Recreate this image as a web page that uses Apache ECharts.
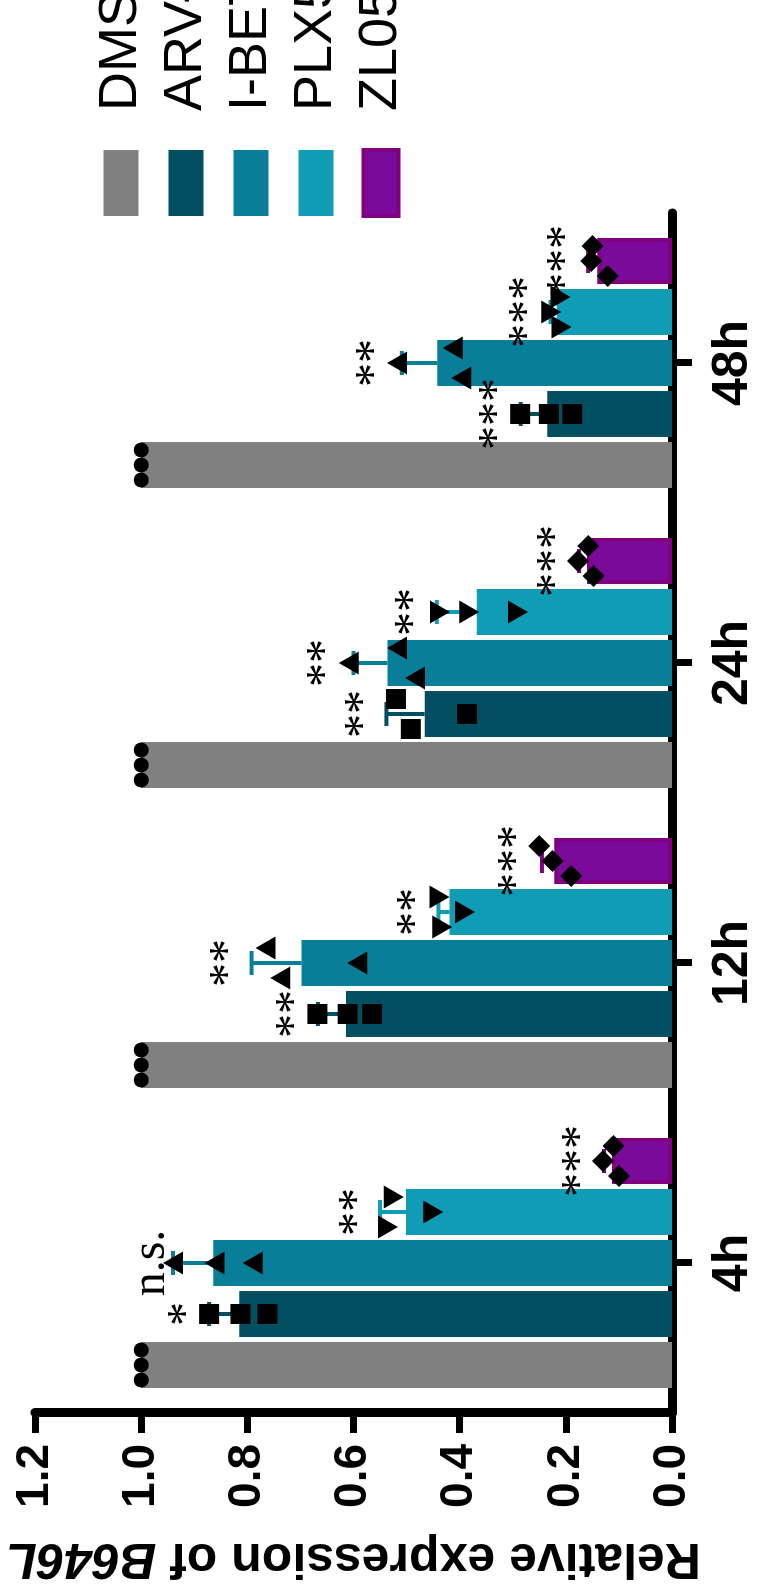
<!DOCTYPE html>
<html>
<head>
<meta charset="utf-8">
<script src="https://cdn.jsdelivr.net/npm/echarts@6/dist/echarts.min.js"></script>
<style>
    html, body { margin: 0; padding: 0; width: 761px; height: 1591px; overflow: hidden; background: #fff; }
    /* the figure is a normal column chart turned a quarter turn counter-clockwise */
    #chart { position: absolute; left: 0; top: 0; width: 1591px; height: 761px;
             transform-origin: 0 0; transform: translate(0, 1591px) rotate(-90deg); }
</style>
</head>
<body>
<div id="chart"></div>
<script>
const categories = ['4h', '12h', '24h', '48h'];
const treatments = ['DMSO', 'ARV-771', 'I-BET151', 'PLX51107', 'ZL0590'];

// bar heights (mean)
const dmsoMean = [1.0, 1.0, 1.0, 1.0];
const arvMean = [0.815, 0.614, 0.466, 0.235];
const ibetMean = [0.864, 0.698, 0.536, 0.442];
const plxMean = [0.501, 0.419, 0.368, 0.217];
const zlMean = [0.113, 0.222, 0.160, 0.141];

// error bar (SD, drawn upward only)
const dmsoSd = [0, 0, 0, 0];
const arvSd = [0.057, 0.053, 0.072, 0.050];
const ibetSd = [0.076, 0.094, 0.064, 0.067];
const plxSd = [0.049, 0.021, 0.075, 0.012];
const zlSd = [0.015, 0.023, 0.015, 0.017];

// individual replicates
const dmsoPts = [[1, 1, 1], [1, 1, 1], [1, 1, 1], [1, 1, 1]];
const arvPts = [[0.872, 0.813, 0.762], [0.668, 0.611, 0.565], [0.52, 0.492, 0.386], [0.286, 0.232, 0.188]];
const ibetPts = [[0.94, 0.862, 0.79], [0.766, 0.738, 0.593], [0.609, 0.518, 0.484], [0.518, 0.413, 0.397]];
const plxPts = [[0.524, 0.535, 0.45], [0.438, 0.433, 0.39], [0.437, 0.382, 0.29], [0.21, 0.2275, 0.208]];
const zlPts = [[0.11, 0.13, 0.10], [0.25, 0.225, 0.19], [0.158, 0.177, 0.148], [0.15, 0.152, 0.121]];

// significance vs DMSO
const dmsoSig = ['', '', '', ''];
const arvSig = ['*', '**', '**', '***'];
const ibetSig = ['n.s.', '**', '**', '**'];
const plxSig = ['**', '**', '**', '***'];
const zlSig = ['***', '***', '***', '***'];

const yTicks = [0, 0.2, 0.4, 0.6, 0.8, 1.0, 1.2];

// ---- style ----
const colors = ['#808080', '#034f62', '#087e98', '#119cb5', '#7a0a9a'];
const markers = [
    { symbol: 'circle', size: 15, rotate: 0 },
    { symbol: 'rect', size: 20, rotate: 0 },
    { symbol: 'triangle', size: [23, 20], rotate: 0 },
    { symbol: 'triangle', size: [23, 20], rotate: 180 },
    { symbol: 'diamond', size: [22, 22], rotate: 0 }
];
const grid = { left: 170, right: 213, top: 35, bottom: 89 };
const barWidth = 46, barGapPx = 5;
const pitch = barWidth + barGapPx;
const pxPerUnit = (761 - grid.top - grid.bottom) / 1.2;
const jitter = 15;
const sansFont = '"Liberation Sans", Arial, sans-serif';
const serifFont = '"Liberation Serif", "Times New Roman", serif';

const means = [dmsoMean, arvMean, ibetMean, plxMean, zlMean];
const sds = [dmsoSd, arvSd, ibetSd, plxSd, zlSd];
const pts = [dmsoPts, arvPts, ibetPts, plxPts, zlPts];
const sigs = [dmsoSig, arvSig, ibetSig, plxSig, zlSig];

// spread replicates sideways only when their markers would overlap
function swarmOffsets(vals) {
    const n = vals.length, comp = vals.map((_, k) => k);
    const find = k => comp[k] === k ? k : (comp[k] = find(comp[k]));
    for (let a = 0; a < n; a++)
        for (let b = a + 1; b < n; b++)
            if (Math.abs(vals[a] - vals[b]) * pxPerUnit < 20) comp[find(a)] = find(b);
    const groups = {};
    vals.forEach((_, k) => { const r = find(k); (groups[r] = groups[r] || []).push(k); });
    const out = new Array(n).fill(0);
    Object.values(groups).forEach(g => {
        const pattern = g.length === 2 ? [1, -1] : g.length === 3 ? [1, 0, -1] : [0];
        g.forEach((k, idx) => { out[k] = (pattern[idx] || 0) * jitter; });
    });
    return out;
}

const series = [];
treatments.forEach((name, j) => {
    const shift = (j - 2) * pitch;
    const color = colors[j];

    series.push({
        name: name,
        type: 'bar',
        data: means[j],
        barWidth: barWidth,
        barGap: (barGapPx / barWidth * 100) + '%',
        itemStyle: j === 4
            ? { color: color, borderColor: '#800080', borderWidth: 4 }
            : { color: color },
        z: 2
    });

    series.push({
        type: 'custom',
        z: 3,
        silent: true,
        encode: { x: 0, y: [1, 2] },
        data: categories.map((c, i) => [i, means[j][i], means[j][i] + sds[j][i]]).filter(d => d[2] > d[1]),
        renderItem: function (params, api) {
            const base = api.coord([api.value(0), api.value(1)]);
            const end = api.coord([api.value(0), api.value(2)]);
            const x = base[0] + shift;
            const st = { stroke: j === 4 ? '#800080' : color, lineWidth: 4 };
            return {
                type: 'group',
                children: [
                    { type: 'line', shape: { x1: x, y1: base[1], x2: x, y2: end[1] }, style: st },
                    { type: 'line', shape: { x1: x - 12, y1: end[1], x2: x + 12, y2: end[1] }, style: st }
                ]
            };
        }
    });

    const scatterData = [];
    pts[j].forEach((vals, i) => {
        const offs = swarmOffsets(vals);
        vals.forEach((v, k) => {
            scatterData.push({ value: [i, v], symbolOffset: [shift + offs[k], 0] });
        });
    });
    series.push({
        type: 'scatter',
        z: 4,
        silent: true,
        symbol: markers[j].symbol,
        symbolSize: markers[j].size,
        symbolRotate: markers[j].rotate,
        itemStyle: { color: '#000', opacity: 1 },
        data: scatterData
    });

    series.push({
        type: 'custom',
        z: 5,
        silent: true,
        encode: { x: 0, y: 1 },
        data: categories.map((c, i) => [i, Math.max(means[j][i] + sds[j][i], ...pts[j][i])]),
        renderItem: function (params, api) {
            const text = sigs[j][params.dataIndex];
            if (!text) return null;
            const p = api.coord([api.value(0), api.value(1)]);
            return {
                type: 'text',
                x: p[0] + shift,
                y: p[1] - 22,
                style: {
                    text: text,
                    fill: '#000',
                    font: '48px ' + serifFont,
                    align: 'center',
                    verticalAlign: 'middle',
                    textAlign: 'center',
                    textVerticalAlign: 'middle'
                }
            };
        }
    });
});

const option = {
    animation: false,
    backgroundColor: '#fff',
    grid: grid,
    legend: {
        data: treatments.map((name, j) => j === 4
            ? { name: name, itemStyle: { color: colors[j], borderColor: '#800080', borderWidth: 4 } }
            : { name: name, itemStyle: { color: colors[j], borderWidth: 0 } }),
        orient: 'vertical',
        left: 1373,
        top: 94,
        padding: 0,
        icon: 'rect',
        itemWidth: 66,
        itemHeight: 35,
        itemGap: 11,
        selectedMode: false,
        textStyle: {
            color: '#000',
            fontFamily: sansFont,
            fontSize: 54,
            padding: [0, 0, 0, 34]
        }
    },
    xAxis: {
        type: 'category',
        data: categories,
        axisLine: { show: true, lineStyle: { color: '#000', width: 9 } },
        axisTick: { show: true, alignWithLabel: true, length: 20, lineStyle: { color: '#000', width: 7 } },
        axisLabel: { color: '#000', fontFamily: sansFont, fontWeight: 'bold', fontSize: 50, margin: 36 },
        splitLine: { show: false }
    },
    yAxis: {
        type: 'value',
        min: yTicks[0],
        max: yTicks[yTicks.length - 1],
        interval: 0.2,
        name: 'Relative expression of {it|B646L}',
        nameLocation: 'middle',
        nameGap: 120,
        nameTextStyle: {
            color: '#000', fontFamily: sansFont, fontWeight: 'bold', fontSize: 50,
            rich: { it: { fontFamily: sansFont, fontWeight: 'bold', fontStyle: 'italic', fontSize: 50, color: '#000' } }
        },
        axisLine: { show: true, lineStyle: { color: '#000', width: 9 } },
        axisTick: { show: true, length: 20, lineStyle: { color: '#000', width: 7 } },
        axisLabel: {
            color: '#000', fontFamily: sansFont, fontWeight: 'bold', fontSize: 46, margin: 31,
            formatter: v => v.toFixed(1)
        },
        splitLine: { show: false }
    },
    series: series
};

const chart = echarts.init(document.getElementById('chart'));
chart.setOption(option);
</script>
</body>
</html>
